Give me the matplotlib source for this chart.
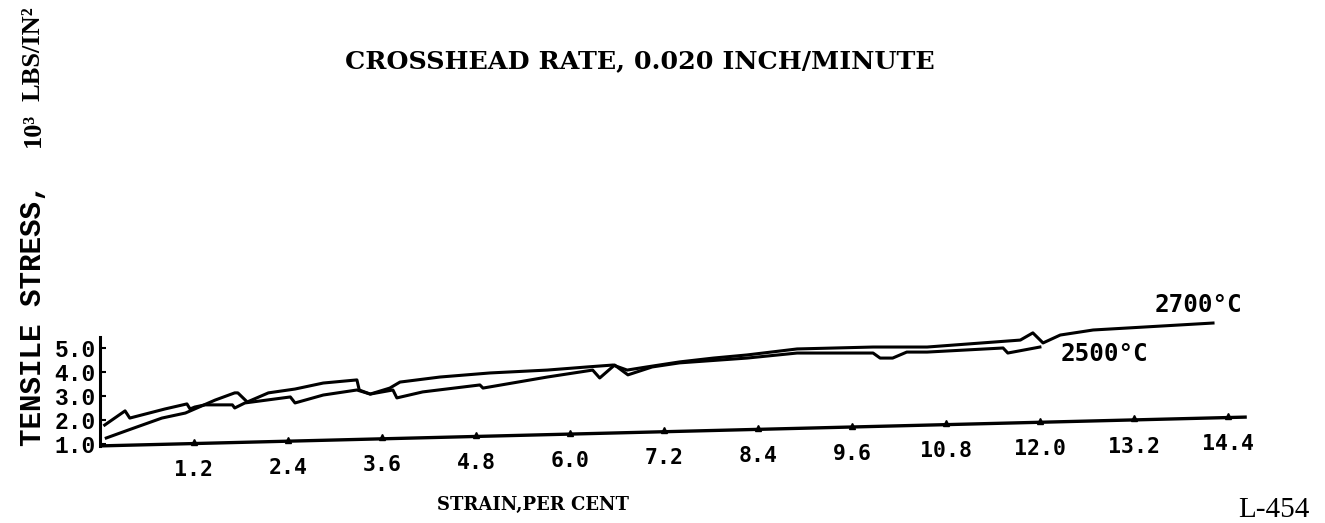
import numpy as np
import matplotlib
matplotlib.use("Agg")
import matplotlib.pyplot as plt

# strain in per cent, stress in 10^3 lbs/in^2
strain_2700 = [0.08, 0.36, 0.79, 1.09, 1.47, 1.72, 1.76, 1.88, 2.15, 2.49, 2.85, 3.28,
               3.31, 3.45, 3.70, 3.83, 4.34, 4.98, 5.71, 6.22, 6.55, 6.73, 6.98, 7.40,
               7.83, 8.26, 8.90, 9.87, 10.56, 11.75, 11.91, 12.04, 12.26, 12.68, 14.21]
stress_2700 = [1.25, 1.58, 2.08, 2.29, 2.83, 3.13, 3.13, 2.75, 3.13, 3.29, 3.54, 3.67,
               3.25, 3.08, 3.33, 3.58, 3.79, 3.96, 4.08, 4.21, 4.29, 4.08, 4.21, 4.42,
               4.58, 4.71, 4.96, 5.04, 5.04, 5.33, 5.63, 5.21, 5.54, 5.75, 6.04]

strain_2500 = [0.06, 0.32, 0.38, 0.83, 1.11, 1.15, 1.21, 1.34, 1.69, 1.72, 1.85, 2.43,
               2.49, 2.85, 3.28, 3.45, 3.74, 3.79, 4.12, 4.85, 4.89, 5.71, 6.13, 6.29,
               6.38, 6.57, 6.74, 7.05, 7.40, 8.26, 8.90, 9.87, 9.96, 10.12, 10.30, 10.56,
               11.53, 11.59, 12.00]
stress_2500 = [1.79, 2.38, 2.08, 2.46, 2.67, 2.46, 2.54, 2.63, 2.63, 2.50, 2.71, 2.96,
               2.71, 3.04, 3.25, 3.08, 3.25, 2.92, 3.17, 3.46, 3.33, 3.79, 4.00, 4.08,
               3.75, 4.29, 3.88, 4.21, 4.38, 4.58, 4.79, 4.79, 4.58, 4.58, 4.83, 4.83,
               5.00, 4.79, 5.04]

# sloping zero line drawn by the recorder
baseline_strain = [0.0, 14.62]
baseline_stress = [0.92, 2.12]

x_ticks = [1.2, 2.4, 3.6, 4.8, 6.0, 7.2, 8.4, 9.6, 10.8, 12.0, 13.2, 14.4]
x_tick_labels = ["1.2", "2.4", "3.6", "4.8", "6.0", "7.2", "8.4", "9.6", "10.8", "12.0", "13.2", "14.4"]
y_ticks = [1.0, 2.0, 3.0, 4.0, 5.0]
y_tick_labels = ["1.0", "2.0", "3.0", "4.0", "5.0"]

W, H = 1325, 523
fig = plt.figure(figsize=(W / 100, H / 100), dpi=100)
ax = fig.add_axes([100 / W, 63 / H, 1160 / W, 180 / H])
ax.set_xlim(0, 14.81)
ax.set_ylim(0.333, 7.833)

lw = 2.2
ax.plot(strain_2700, stress_2700, color="black", lw=lw, solid_joinstyle="round")
ax.plot(strain_2500, stress_2500, color="black", lw=lw, solid_joinstyle="round")
ax.plot(baseline_strain, baseline_stress, color="black", lw=2.4)

# small tick bumps sitting on the sloping baseline
tick_y = np.interp(x_ticks, baseline_strain, baseline_stress)
ax.plot(x_ticks, tick_y + 0.06, "^", color="black", ms=4)

mono = "Liberation Mono"
serif = "Liberation Serif"
slab = "DejaVu Serif"
for s, y, lab in zip(x_ticks, tick_y, x_tick_labels):
    ax.annotate(lab, (s, y), xytext=(0, -12), textcoords="offset points",
                ha="center", va="top", fontsize=15.5, family="DejaVu Sans Mono",
                fontweight="bold", annotation_clip=False)

for sp in ["top", "right", "bottom"]:
    ax.spines[sp].set_visible(False)
ax.spines["left"].set_linewidth(2.2)
ax.spines["left"].set_bounds(0.92, 5.46)
ax.set_xticks([])
ax.set_yticks(y_ticks)
ax.set_yticklabels(y_tick_labels, family=mono, fontsize=16.5, fontweight="bold")
ax.tick_params(axis="y", direction="in", length=4, width=1.5, pad=3)

ax.text(13.47, 6.79, "2700°C", ha="left", va="center", fontsize=17.5,
        family="DejaVu Sans Mono", fontweight="bold")
ax.text(12.26, 4.75, "2500°C", ha="left", va="center", fontsize=17.5,
        family="DejaVu Sans Mono", fontweight="bold")

fig.text(640 / W, 1 - 61 / H, "CROSSHEAD RATE, 0.020 INCH/MINUTE", ha="center",
         va="center", fontsize=18.3, family=slab, fontweight="bold")

# vertical axis title is set in two faces
fig.text(33 / W, 1 - 315 / H, "TENSILE STRESS,", rotation=90,
         ha="center", va="center", fontsize=21, family=mono, fontweight="bold")
fig.text(33 / W, 1 - 130 / H, "10³", rotation=90,
         ha="center", va="center", fontsize=19, family=serif, fontweight="bold")
fig.text(33 / W, 1 - 54 / H, "LBS/IN²", rotation=90,
         ha="center", va="center", fontsize=19, family=serif, fontweight="bold")

fig.text(533 / W, 1 - 505 / H, "STRAIN,PER CENT", ha="center", va="center",
         fontsize=13, family=slab, fontweight="bold")
fig.text(1310 / W, 1 - 510 / H, "L-454", ha="right", va="center",
         fontsize=21, family=serif)

fig.savefig("out.png", dpi=100)
